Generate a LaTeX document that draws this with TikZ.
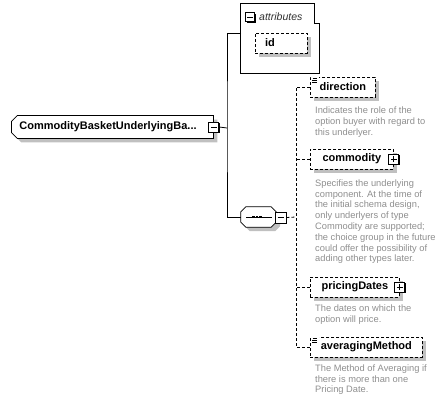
\documentclass[tikz,border=0pt]{standalone}
\usepackage{fontspec}
\setmainfont{Liberation Sans}
\usetikzlibrary{shapes.misc, shadows, positioning, calc}
\definecolor{XsdBlack}{HTML}{000000}
\definecolor{XsdWhite}{HTML}{FFFFFF}
\definecolor{XsdShadow}{HTML}{C0C0C0}
\definecolor{XsdNote}{HTML}{8E8E8E}
\definecolor{XsdLabel}{HTML}{303030}
\tikzset{
    % element boxes
    rootelem/.style={
        chamfered rectangle,
        chamfered rectangle corners={north west, south west},
        chamfered rectangle xsep=3pt,
        chamfered rectangle ysep=3pt,
        draw=XsdBlack,
        fill=XsdWhite,
        line width=0.8pt,
        inner xsep=5pt,
        align=left,
        font=\fontsize{11}{13}\selectfont\bfseries,
        drop shadow={shadow xshift=4pt, shadow yshift=-4pt, fill=XsdShadow, opacity=1}
    },
    elem/.style={
        rectangle,
        draw=XsdBlack,
        fill=XsdWhite,
        line width=0.8pt,
        dash pattern=on 3pt off 2pt,
        minimum height=20pt,
        inner sep=0pt,
        font=\fontsize{11}{13}\selectfont\bfseries,
        drop shadow={shadow xshift=4pt, shadow yshift=-4pt, fill=XsdShadow, opacity=1}
    },
    seqline/.style={
        draw=XsdBlack,
        fill=XsdWhite,
        line width=0.8pt,
        drop shadow={shadow xshift=4pt, shadow yshift=-4pt, fill=XsdShadow, opacity=1}
    },
    group/.style={
        draw=XsdBlack,
        fill=XsdWhite,
        line width=0.8pt
    },
    % expand / collapse buttons
    expander/.style={
        rectangle,
        draw=XsdBlack,
        fill=XsdWhite,
        line width=0.8pt,
        minimum size=10pt,
        inner sep=0pt,
        drop shadow={shadow xshift=1pt, shadow yshift=-1pt, fill=XsdBlack, opacity=1}
    },
    minusbox/.style={
        expander,
        path picture={
            \draw[line width=0.8pt] ([xshift=-3pt]path picture bounding box.center)
                -- ([xshift=3pt]path picture bounding box.center);
        }
    },
    plusbox/.style={
        expander,
        path picture={
            \draw[line width=0.8pt] ([xshift=-3pt]path picture bounding box.center)
                -- ([xshift=3pt]path picture bounding box.center);
            \draw[line width=0.8pt] ([yshift=-3pt]path picture bounding box.center)
                -- ([yshift=3pt]path picture bounding box.center);
        }
    },
    % annotation texts
    note/.style={
        anchor=north west,
        inner sep=0pt,
        align=left,
        text=XsdNote,
        font=\fontsize{9.3}{10.8}\selectfont
    },
    icon/.style={
        line width=0.6pt,
        draw=XsdBlack
    },
    % connectors
    link/.style={
        line width=0.8pt,
        draw=XsdBlack
    },
    dlink/.style={
        line width=0.8pt,
        draw=XsdBlack,
        dash pattern=on 3pt off 2pt
    }
}

\begin{document}
\begin{tikzpicture}[x=1pt, y=-1pt]
    \useasboundingbox (0,0) rectangle (445,402);

    % root element
    \node[rootelem, minimum width=202pt, minimum height=21pt, text width=186pt, anchor=west] (root) at (11,127) {CommodityBasketUnderlyingBa...};
    \node[minusbox] (rootmin) at (root.east) {};

    % attributes
    \node[inner sep=0pt, minimum width=78pt, minimum height=69pt] (attrs) at (280,38.5) {};
    \draw[group] (attrs.north west) -- ([xshift=-5pt]attrs.north east)
        -- ([xshift=-5pt,yshift=-20pt]attrs.north east) -- ([yshift=-20pt]attrs.north east)
        -- (attrs.south east) -- (attrs.south west) -- cycle;
    \node[minusbox, minimum size=9pt] (attrsmin) at (250,17) {};
    \node[anchor=west, inner sep=0pt, text=XsdLabel, font=\fontsize{10.5}{12}\selectfont\itshape] (attrslabel) at (259,17) {attributes};
    \node[elem, inner xsep=10pt, text width=32pt, align=left] (id) at (281,43) {id};

    % sequence
    \node[inner sep=0pt, minimum width=35pt, minimum height=20pt] (seq) at (258.5,217) {};
    \draw[seqline] ([xshift=5pt]seq.north west) -- ([xshift=-5pt]seq.north east)
        -- ([yshift=-5pt]seq.north east) -- ([yshift=5pt]seq.south east)
        -- ([xshift=-5pt]seq.south east) -- ([xshift=5pt]seq.south west)
        -- ([yshift=5pt]seq.south west) -- ([yshift=-5pt]seq.north west) -- cycle;
    \draw[link] ([xshift=-12.5pt]seq.center) -- ([xshift=13pt]seq.center);
    \foreach \dx in {-5,-1.5,2}
        \fill ([xshift=\dx pt]seq.center) ++(-1.25,-1.25) rectangle ++(2.5,2.5);
    \node[minusbox, minimum size=11pt] (seqmin) at (280.5,217.5) {};

    \coordinate (trunk) at (227,128);
    \coordinate (attrsin) at (241,33);
    \coordinate (choice) at (296,217);

    \draw[link] (rootmin.east) -- (trunk);
    \draw[link] (attrsin) -| (trunk) |- (seq.west);
    \draw[dlink] (seqmin.east) -- (choice);

    % child elements
    \node[elem, minimum width=65pt, anchor=west] (direction) at (310,87) {direction};
    \node[elem, minimum width=83pt, anchor=west] (commodity) at (310,159) {commodity};
    \node[elem, minimum width=89pt, anchor=west] (pricingDates) at (310,287) {pricingDates};
    \node[elem, minimum width=112pt, anchor=west] (averagingMethod) at (310,347) {averagingMethod};
    \node[plusbox] (commodityplus) at (commodity.east) {};
    \node[plusbox] (pricingDatesplus) at (pricingDates.east) {};

    \draw[dlink] (direction.west) -| (choice) |- (averagingMethod.west);
    \draw[dlink] (commodity.west) -- (commodity.west -| choice);
    \draw[dlink] (pricingDates.west) -- (pricingDates.west -| choice);

    % simple type icons
    \fill[white] (direction.north west) ++(1,-1) rectangle ++(8,8);
    \draw[icon] (direction.north west) ++(2.5,1.3) -- ++(4.5,0) ++(-5,2) -- ++(5,0) ++(-5,2) -- ++(5,0);
    \fill[white] (averagingMethod.north west) ++(1,-1) rectangle ++(8,8);
    \draw[icon] (averagingMethod.north west) ++(2.5,1.3) -- ++(4.5,0) ++(-5,2) -- ++(5,0) ++(-5,2) -- ++(5,0);

    % documentation
    \node[note] (directionnote) at (315,106.5) {Indicates the role of the\\option buyer with regard to\\this underlyer.};
    \node[note] (commoditynote) at (315,179.3) {Specifies the underlying\\component. At the time of\\the initial schema design,\\only underlyers of type\\Commodity are supported;\\the choice group in the future\\could offer the possibility of\\adding other types later.};
    \node[note] (pricingDatesnote) at (315,304.3) {The dates on which the\\option will price.};
    \node[note] (averagingMethodnote) at (315,364.3) {The Method of Averaging if\\there is more than one\\Pricing Date.};
\end{tikzpicture}
\end{document}
